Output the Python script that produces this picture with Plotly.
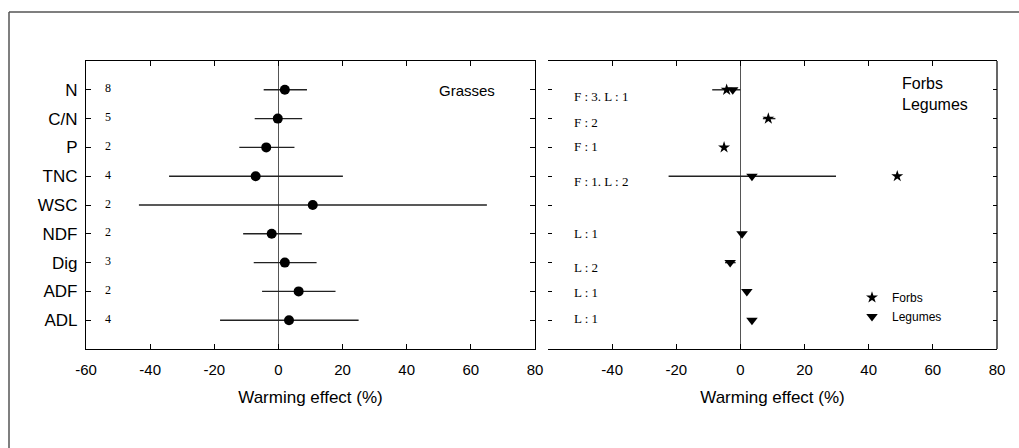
import plotly.graph_objects as go

# ---------------- data ----------------
traits = ["N", "C/N", "P", "TNC", "WSC", "NDF", "Dig", "ADF", "ADL"]

grass_mean = [2.0, -0.2, -3.8, -7.1, 10.7, -2.1, 2.0, 6.3, 3.3]
grass_low = [-4.6, -7.4, -12.2, -34.1, -43.5, -11.0, -7.7, -5.1, -18.2]
grass_high = [8.9, 7.4, 5.0, 20.1, 65.0, 7.3, 11.9, 17.8, 25.0]
grass_n = ["8", "5", "2", "4", "2", "2", "3", "2", "4"]

forb_mean = [-4.3, 8.7, -5.1, 48.9, None, None, None, None, None]
forb_low = [-8.8, 7.0, -5.1, 48.9, None, None, None, None, None]
forb_high = [0.0, 10.9, -5.1, 48.9, None, None, None, None, None]

legume_mean = [-2.4, None, None, 3.6, None, 0.5, -3.2, 2.0, 3.6]
legume_low = [-2.4, None, None, -22.4, None, 0.5, -4.8, 2.0, 3.6]
legume_high = [-2.4, None, None, 29.8, None, 0.5, -1.5, 2.0, 3.6]

fl_labels = ["F : 3. L : 1", "F : 2", "F : 1", "F : 1. L : 2", "",
             "L : 1", "L : 2", "L : 1", "L : 1"]

x_ticks_left = [-60, -40, -20, 0, 20, 40, 60, 80]
x_ticktext_left = ["-60", "-40", "-20", "0", "20", "40", "60", "80"]
x_ticks_right = [-40, -20, 0, 20, 40, 60, 80]
x_ticktext_right = ["-40", "-20", "0", "20", "40", "60", "80"]
x_range = [-60, 80]

# ---------------- helpers ----------------
ypos = list(range(len(traits)))


def err(mean, low, high):
    plus = [None if m is None else h - m for m, h in zip(mean, high)]
    minus = [None if m is None else m - l for m, l in zip(mean, low)]
    return plus, minus


W, H = 1019, 448
def px_x(p):
    return p / W
def px_y(p):
    return 1 - p / H

fig = go.Figure()

gp, gm = err(grass_mean, grass_low, grass_high)
fig.add_trace(go.Scatter(
    x=grass_mean, y=ypos, mode="markers", xaxis="x", yaxis="y",
    marker=dict(symbol="circle", size=10, color="black"),
    error_x=dict(type="data", array=gp, arrayminus=gm, width=0,
                 thickness=1.4, color="#222"),
    showlegend=False))

fp, fm = err(forb_mean, forb_low, forb_high)
fig.add_trace(go.Scatter(
    x=forb_mean, y=ypos, mode="markers", xaxis="x2", yaxis="y2",
    name="Forbs",
    marker=dict(symbol="star", size=9, color="black"),
    error_x=dict(type="data", array=fp, arrayminus=fm, width=0,
                 thickness=1.4, color="#222"),
    showlegend=True))

lp, lm = err(legume_mean, legume_low, legume_high)
fig.add_trace(go.Scatter(
    x=legume_mean, y=ypos, mode="markers", xaxis="x2", yaxis="y2",
    name="Legumes",
    marker=dict(symbol="triangle-down", size=10, color="black"),
    error_x=dict(type="data", array=lp, arrayminus=lm, width=0,
                 thickness=1.4, color="#222"),
    showlegend=True))

SANS = "Liberation Sans, Arial, sans-serif"
tick_font = dict(family=SANS, size=15, color="black")
title_font = dict(family=SANS, size=17, color="black")

common_x = dict(range=x_range, ticks="inside", ticklen=5, tickcolor="black",
                showline=True, linecolor="black", linewidth=1.2, mirror="ticks",
                showgrid=False, zeroline=True, zerolinecolor="#555",
                zerolinewidth=1.2, tickfont=tick_font, automargin=False,
                ticklabelstandoff=7,
                title=dict(text="Warming effect (%)", font=title_font, standoff=14))

fig.update_layout(
    width=W, height=H, autosize=False,
    margin=dict(l=0, r=0, t=0, b=0, pad=0, autoexpand=False),
    paper_bgcolor="white", plot_bgcolor="white",
    xaxis=dict(domain=[px_x(86), px_x(535)], anchor="y",
               tickvals=x_ticks_left, ticktext=x_ticktext_left, **common_x),
    xaxis2=dict(domain=[px_x(548), px_x(997)], anchor="y2",
                tickvals=x_ticks_right, ticktext=x_ticktext_right, **common_x),
    yaxis=dict(domain=[px_y(349), px_y(61)], range=[9, -1], anchor="x",
               tickvals=ypos, ticktext=traits, ticks="inside", ticklen=5,
               tickcolor="black", showline=True, linecolor="black",
               linewidth=1.2, mirror="ticks", showgrid=False, zeroline=False,
               automargin=False,
               tickfont=dict(family=SANS, size=17, color="black"),
               ticklabelstandoff=4),
    yaxis2=dict(domain=[px_y(349), px_y(61)], range=[9, -1], anchor="x2",
                tickvals=ypos, showticklabels=False, ticks="inside",
                ticklen=4, tickcolor="black", showline=False, automargin=False,
                mirror="ticks", showgrid=False, zeroline=False),
    legend=dict(x=px_x(852), y=px_y(283), xanchor="left", yanchor="top",
                font=dict(family=SANS, size=12, color="black"),
                bgcolor="rgba(0,0,0,0)", tracegroupgap=0, itemwidth=30),
)

shapes = [
    # outer frame
    dict(type="line", xref="paper", yref="paper", x0=px_x(9), x1=px_x(9),
         y0=0, y1=px_y(12), line=dict(color="#555", width=1.5)),
    dict(type="line", xref="paper", yref="paper", x0=px_x(9), x1=1,
         y0=px_y(12), y1=px_y(12), line=dict(color="#555", width=1.5)),
    # right spine of the right panel
    dict(type="line", xref="x2 domain", yref="y2 domain", x0=1, x1=1,
         y0=0, y1=1, line=dict(color="black", width=1.2)),
]
fig.update_layout(shapes=shapes)

SERIF = "Liberation Serif, Times New Roman, serif"
sans = dict(family=SANS, color="black")

ann = []
for i, n in enumerate(grass_n):
    ann.append(dict(x=-53, y=i - 0.05, xref="x", yref="y", text=n,
                    showarrow=False,
                    font=dict(family=SERIF, size=12, color="black"),
                    xanchor="center", yanchor="middle"))

label_dy = [0.24, 0.13, -0.03, 0.17, 0, 0.0, 0.17, 0.03, -0.07]
for i, t in enumerate(fl_labels):
    if t:
        ann.append(dict(x=-52.6, y=i + label_dy[i], xref="x2", yref="y2",
                        text=t, showarrow=False,
                        font=dict(family=SERIF, size=13, color="black"),
                        xanchor="left", yanchor="middle"))

ann.append(dict(x=px_x(467), y=px_y(90), xref="paper", yref="paper",
                text="Grasses", showarrow=False,
                font=dict(size=15, **sans), xanchor="center", yanchor="middle"))
ann.append(dict(x=px_x(900), y=px_y(83), xref="paper", yref="paper",
                text="Forbs", showarrow=False,
                font=dict(size=16, **sans), xanchor="left", yanchor="middle"))
ann.append(dict(x=px_x(900), y=px_y(104), xref="paper", yref="paper",
                text="Legumes", showarrow=False,
                font=dict(size=16, **sans), xanchor="left", yanchor="middle"))
fig.update_layout(annotations=ann)

fig.write_html("out.html", config={"displayModeBar": False},
               post_script="document.body.style.margin='0';"
                           "document.body.style.overflow='hidden';")
